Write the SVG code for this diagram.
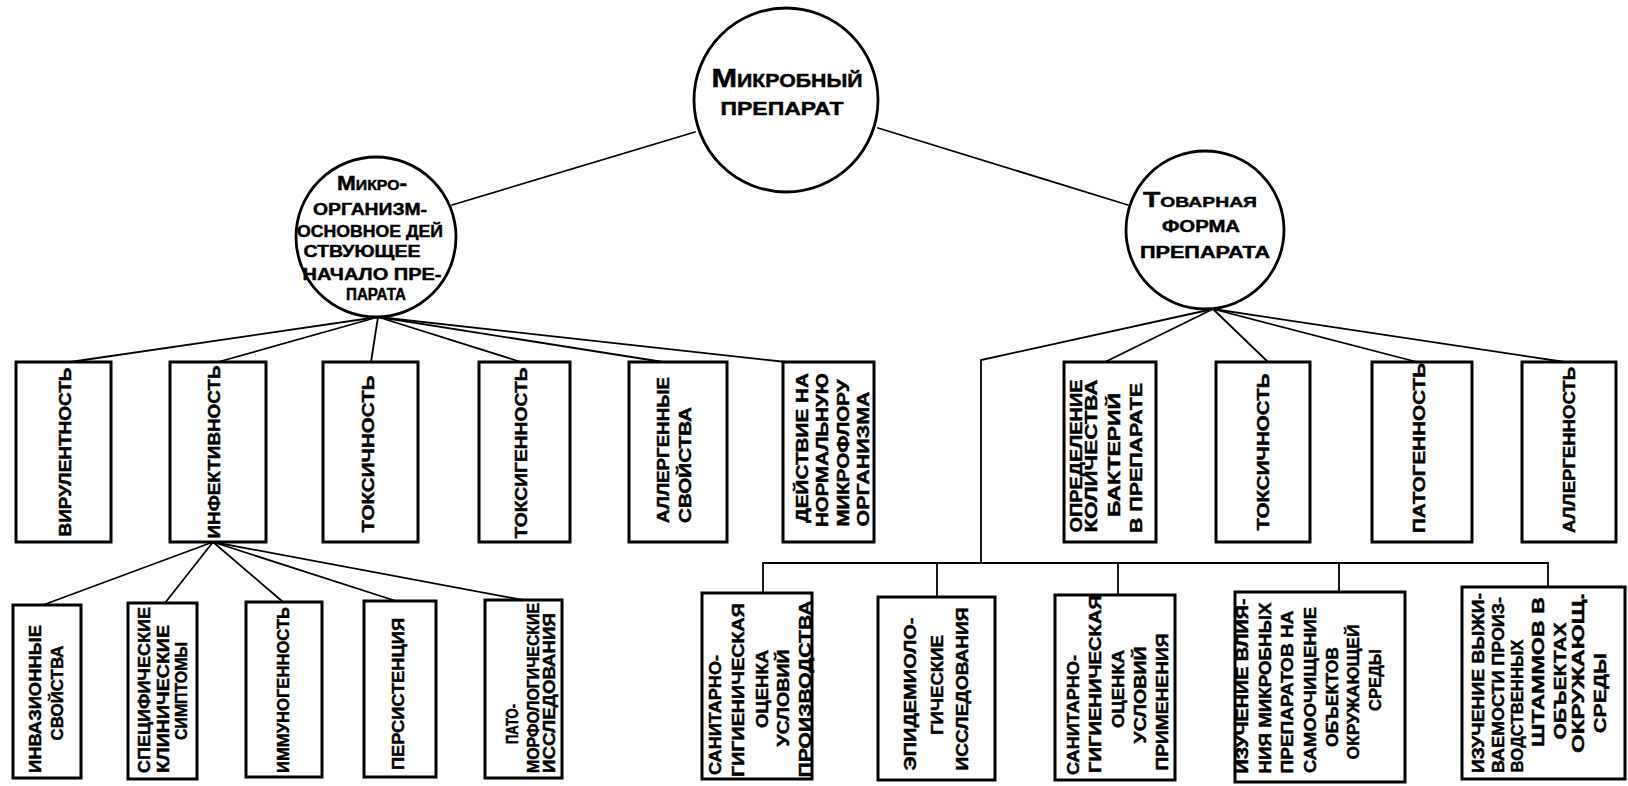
<svg xmlns="http://www.w3.org/2000/svg" width="1628" height="786" viewBox="0 0 1628 786">
<style>
.bg{fill:#fff}
.ln{stroke:#000;stroke-width:1.8;fill:none;stroke-linecap:round}
.bx{fill:#fff;stroke:#000;stroke-width:3}
.cr{fill:#fff;stroke:#000;stroke-width:2.8}
text{font-family:"Liberation Sans","DejaVu Sans",sans-serif;font-weight:bold;fill:#000;stroke:#000;stroke-width:0.45}
.v{font-size:17px;text-anchor:middle}
.c{font-size:16px;text-anchor:middle}
.sc{font-variant:small-caps}
</style>
<rect class="bg" x="0" y="0" width="1628" height="786"/>
<g id="connectors">
<line class="ln" x1="695" y1="132" x2="452" y2="205"/>
<line class="ln" x1="878" y1="128" x2="1128" y2="205"/>
<line class="ln" x1="378" y1="317" x2="70" y2="362"/>
<line class="ln" x1="378" y1="317" x2="218" y2="362"/>
<line class="ln" x1="378" y1="317" x2="371" y2="362"/>
<line class="ln" x1="378" y1="317" x2="521" y2="362"/>
<line class="ln" x1="378" y1="317" x2="663" y2="362"/>
<line class="ln" x1="378" y1="317" x2="786" y2="362"/>
<line class="ln" x1="1213" y1="309" x2="1105" y2="362"/>
<line class="ln" x1="1213" y1="309" x2="1268" y2="362"/>
<line class="ln" x1="1213" y1="309" x2="1417" y2="362"/>
<line class="ln" x1="1213" y1="309" x2="1565" y2="362"/>
<polyline class="ln" points="1213,309 981,360 981,563"/>
<line class="ln" x1="763" y1="563" x2="1548" y2="563"/>
<line class="ln" x1="763" y1="563" x2="763" y2="593"/>
<line class="ln" x1="937" y1="563" x2="937" y2="597"/>
<line class="ln" x1="1118" y1="563" x2="1118" y2="595"/>
<line class="ln" x1="1339" y1="563" x2="1339" y2="592"/>
<line class="ln" x1="1548" y1="563" x2="1548" y2="587"/>
<line class="ln" x1="213" y1="542" x2="43" y2="605"/>
<line class="ln" x1="213" y1="542" x2="165" y2="603"/>
<line class="ln" x1="213" y1="542" x2="283" y2="602"/>
<line class="ln" x1="213" y1="542" x2="396" y2="601"/>
<line class="ln" x1="213" y1="542" x2="523" y2="600"/>
</g>
<g id="root">
<circle class="cr" cx="786" cy="100" r="92"/>
<text class="c sc" x="787" y="87" textLength="151" lengthAdjust="spacingAndGlyphs" style="font-size:26px">Микробный</text>
<text class="c" x="782" y="115" textLength="123" lengthAdjust="spacingAndGlyphs" style="font-size:18px">ПРЕПАРАТ</text>
</g>
<g id="microorganism">
<circle class="cr" cx="376" cy="237" r="80"/>
<text class="c sc" x="372" y="190" textLength="70" lengthAdjust="spacingAndGlyphs" style="font-size:20px">Микро-</text>
<text class="c" x="370" y="215" textLength="114" lengthAdjust="spacingAndGlyphs">ОРГАНИЗМ-</text>
<text class="c" x="370" y="237" textLength="146" lengthAdjust="spacingAndGlyphs">ОСНОВНОЕ ДЕЙ</text>
<text class="c" x="362" y="257" textLength="117" lengthAdjust="spacingAndGlyphs">СТВУЮЩЕЕ</text>
<text class="c" x="372" y="280" textLength="139" lengthAdjust="spacingAndGlyphs">НАЧАЛО ПРЕ-</text>
<text class="c" x="376" y="300" textLength="60" lengthAdjust="spacingAndGlyphs">ПАРАТА</text>
</g>
<g id="commodity">
<circle class="cr" cx="1205" cy="230" r="79"/>
<text class="c sc" x="1200" y="207" textLength="114" lengthAdjust="spacingAndGlyphs" style="font-size:22px">Товарная</text>
<text class="c" x="1201" y="232" textLength="78" lengthAdjust="spacingAndGlyphs">ФОРМА</text>
<text class="c" x="1205" y="258" textLength="130" lengthAdjust="spacingAndGlyphs">ПРЕПАРАТА</text>
</g>
<g id="b1"><rect class="bx" x="16" y="362" width="95" height="180"/>
<text class="v" transform="translate(71,452) rotate(-90)" textLength="169" lengthAdjust="spacingAndGlyphs">ВИРУЛЕНТНОСТЬ</text></g>
<g id="b2"><rect class="bx" x="170" y="362" width="96" height="180"/>
<text class="v" transform="translate(220,452) rotate(-90)" textLength="173" lengthAdjust="spacingAndGlyphs">ИНФЕКТИВНОСТЬ</text></g>
<g id="b3"><rect class="bx" x="323" y="362" width="95" height="180"/>
<text class="v" transform="translate(374,454) rotate(-90)" textLength="157" lengthAdjust="spacingAndGlyphs">ТОКСИЧНОСТЬ</text></g>
<g id="b4"><rect class="bx" x="479" y="362" width="91" height="180"/>
<text class="v" transform="translate(527,453) rotate(-90)" textLength="171" lengthAdjust="spacingAndGlyphs">ТОКСИГЕННОСТЬ</text></g>
<g id="b5"><rect class="bx" x="629" y="362" width="98" height="180"/>
<text class="v" transform="translate(669,450) rotate(-90)" textLength="146" lengthAdjust="spacingAndGlyphs">АЛЛЕРГЕННЫЕ</text>
<text class="v" transform="translate(691,465) rotate(-90)" textLength="116" lengthAdjust="spacingAndGlyphs">СВОЙСТВА</text></g>
<g id="b6"><rect class="bx" x="783" y="362" width="91" height="180"/>
<text class="v" transform="translate(808,448) rotate(-90)" textLength="150" lengthAdjust="spacingAndGlyphs">ДЕЙСТВИЕ НА</text>
<text class="v" transform="translate(828,450) rotate(-90)" textLength="154" lengthAdjust="spacingAndGlyphs">НОРМАЛЬНУЮ</text>
<text class="v" transform="translate(849,453) rotate(-90)" textLength="147" lengthAdjust="spacingAndGlyphs">МИКРОФЛОРУ</text>
<text class="v" transform="translate(869,459) rotate(-90)" textLength="135" lengthAdjust="spacingAndGlyphs">ОРГАНИЗМА</text></g>
<g id="b7"><rect class="bx" x="1064" y="362" width="92" height="180"/>
<text class="v" transform="translate(1082,456) rotate(-90)" textLength="153" lengthAdjust="spacingAndGlyphs">ОПРЕДЕЛЕНИЕ</text>
<text class="v" transform="translate(1097,456) rotate(-90)" textLength="153" lengthAdjust="spacingAndGlyphs">КОЛИЧЕСТВА</text>
<text class="v" transform="translate(1120,455) rotate(-90)" textLength="124" lengthAdjust="spacingAndGlyphs">БАКТЕРИЙ</text>
<text class="v" transform="translate(1142,458) rotate(-90)" textLength="150" lengthAdjust="spacingAndGlyphs">В ПРЕПАРАТЕ</text></g>
<g id="b8"><rect class="bx" x="1216" y="362" width="94" height="180"/>
<text class="v" transform="translate(1269,452) rotate(-90)" textLength="157" lengthAdjust="spacingAndGlyphs">ТОКСИЧНОСТЬ</text></g>
<g id="b9"><rect class="bx" x="1372" y="362" width="100" height="180"/>
<text class="v" transform="translate(1425,448) rotate(-90)" textLength="170" lengthAdjust="spacingAndGlyphs">ПАТОГЕННОСТЬ</text></g>
<g id="b10"><rect class="bx" x="1522" y="362" width="94" height="180"/>
<text class="v" transform="translate(1575,450) rotate(-90)" textLength="166" lengthAdjust="spacingAndGlyphs">АЛЛЕРГЕННОСТЬ</text></g>
<g id="l1"><rect class="bx" x="13" y="605" width="68" height="173"/>
<text class="v" transform="translate(41,699) rotate(-90)" textLength="148" lengthAdjust="spacingAndGlyphs">ИНВАЗИОННЫЕ</text>
<text class="v" transform="translate(63,693) rotate(-90)" textLength="95" lengthAdjust="spacingAndGlyphs">СВОЙСТВА</text></g>
<g id="l2"><rect class="bx" x="128" y="603" width="69" height="176"/>
<text class="v" transform="translate(150,690) rotate(-90)" textLength="166" lengthAdjust="spacingAndGlyphs">СПЕЦИФИЧЕСКИЕ</text>
<text class="v" transform="translate(169,699) rotate(-90)" textLength="148" lengthAdjust="spacingAndGlyphs">КЛИНИЧЕСКИЕ</text>
<text class="v" transform="translate(187,691) rotate(-90)" textLength="98" lengthAdjust="spacingAndGlyphs">СИМПТОМЫ</text></g>
<g id="l3"><rect class="bx" x="246" y="602" width="76" height="175"/>
<text class="v" transform="translate(289,690) rotate(-90)" textLength="166" lengthAdjust="spacingAndGlyphs">ИММУНОГЕННОСТЬ</text></g>
<g id="l4"><rect class="bx" x="364" y="601" width="72" height="176"/>
<text class="v" transform="translate(404,694) rotate(-90)" textLength="152" lengthAdjust="spacingAndGlyphs">ПЕРСИСТЕНЦИЯ</text></g>
<g id="l5"><rect class="bx" x="485" y="600" width="77" height="178"/>
<text class="v" transform="translate(518,724) rotate(-90)" textLength="40" lengthAdjust="spacingAndGlyphs">ПАТО-</text>
<text class="v" transform="translate(539,688) rotate(-90)" textLength="170" lengthAdjust="spacingAndGlyphs">МОРФОЛОГИЧЕСКИЕ</text>
<text class="v" transform="translate(555,693) rotate(-90)" textLength="160" lengthAdjust="spacingAndGlyphs">ИССЛЕДОВАНИЯ</text></g>
<g id="r1"><rect class="bx" x="702" y="593" width="110" height="186"/>
<text class="v" transform="translate(721,715) rotate(-90)" textLength="120" lengthAdjust="spacingAndGlyphs">САНИТАРНО-</text>
<text class="v" transform="translate(744,690) rotate(-90)" textLength="174" lengthAdjust="spacingAndGlyphs">ГИГИЕНИЧЕСКАЯ</text>
<text class="v" transform="translate(768,689) rotate(-90)" textLength="78" lengthAdjust="spacingAndGlyphs">ОЦЕНКА</text>
<text class="v" transform="translate(789,698) rotate(-90)" textLength="97" lengthAdjust="spacingAndGlyphs">УСЛОВИЙ</text>
<text class="v" transform="translate(811,689) rotate(-90)" textLength="177" lengthAdjust="spacingAndGlyphs">ПРОИЗВОДСТВА</text></g>
<g id="r2"><rect class="bx" x="878" y="597" width="117" height="183"/>
<text class="v" transform="translate(916,694) rotate(-90)" textLength="153" lengthAdjust="spacingAndGlyphs">ЭПИДЕМИОЛО-</text>
<text class="v" transform="translate(943,685) rotate(-90)" textLength="100" lengthAdjust="spacingAndGlyphs">ГИЧЕСКИЕ</text>
<text class="v" transform="translate(968,689) rotate(-90)" textLength="163" lengthAdjust="spacingAndGlyphs">ИССЛЕДОВАНИЯ</text></g>
<g id="r3"><rect class="bx" x="1055" y="595" width="120" height="185"/>
<text class="v" transform="translate(1079,715) rotate(-90)" textLength="120" lengthAdjust="spacingAndGlyphs">САНИТАРНО-</text>
<text class="v" transform="translate(1101,684) rotate(-90)" textLength="178" lengthAdjust="spacingAndGlyphs">ГИГИЕНИЧЕСКАЯ</text>
<text class="v" transform="translate(1124,689) rotate(-90)" textLength="78" lengthAdjust="spacingAndGlyphs">ОЦЕНКА</text>
<text class="v" transform="translate(1146,695) rotate(-90)" textLength="97" lengthAdjust="spacingAndGlyphs">УСЛОВИЙ</text>
<text class="v" transform="translate(1168,702) rotate(-90)" textLength="137" lengthAdjust="spacingAndGlyphs">ПРИМЕНЕНИЯ</text></g>
<g id="r4"><rect class="bx" x="1235" y="592" width="170" height="190"/>
<text class="v" transform="translate(1248,686) rotate(-90)" textLength="175" lengthAdjust="spacingAndGlyphs">ИЗУЧЕНИЕ ВЛИЯ-</text>
<text class="v" transform="translate(1271,688) rotate(-90)" textLength="171" lengthAdjust="spacingAndGlyphs">НИЯ МИКРОБНЫХ</text>
<text class="v" transform="translate(1293,692) rotate(-90)" textLength="163" lengthAdjust="spacingAndGlyphs">ПРЕПАРАТОВ НА</text>
<text class="v" transform="translate(1316,690) rotate(-90)" textLength="166" lengthAdjust="spacingAndGlyphs">САМООЧИЩЕНИЕ</text>
<text class="v" transform="translate(1338,697) rotate(-90)" textLength="100" lengthAdjust="spacingAndGlyphs">ОБЪЕКТОВ</text>
<text class="v" transform="translate(1359,692) rotate(-90)" textLength="135" lengthAdjust="spacingAndGlyphs">ОКРУЖАЮЩЕЙ</text>
<text class="v" transform="translate(1381,680) rotate(-90)" textLength="62" lengthAdjust="spacingAndGlyphs">СРЕДЫ</text></g>
<g id="r5"><rect class="bx" x="1462" y="587" width="163" height="192"/>
<text class="v" transform="translate(1484,683) rotate(-90)" textLength="180" lengthAdjust="spacingAndGlyphs">ИЗУЧЕНИЕ ВЫЖИ-</text>
<text class="v" transform="translate(1504,685) rotate(-90)" textLength="176" lengthAdjust="spacingAndGlyphs">ВАЕМОСТИ ПРОИЗ-</text>
<text class="v" transform="translate(1523,706) rotate(-90)" textLength="133" lengthAdjust="spacingAndGlyphs">ВОДСТВЕННЫХ</text>
<text class="v" transform="translate(1544,672) rotate(-90)" textLength="150" lengthAdjust="spacingAndGlyphs">ШТАММОВ В</text>
<text class="v" transform="translate(1566,681) rotate(-90)" textLength="117" lengthAdjust="spacingAndGlyphs">ОБЪЕКТАХ</text>
<text class="v" transform="translate(1584,673) rotate(-90)" textLength="160" lengthAdjust="spacingAndGlyphs">ОКРУЖАЮЩ.</text>
<text class="v" transform="translate(1606,693) rotate(-90)" textLength="80" lengthAdjust="spacingAndGlyphs">СРЕДЫ</text></g>
</svg>
